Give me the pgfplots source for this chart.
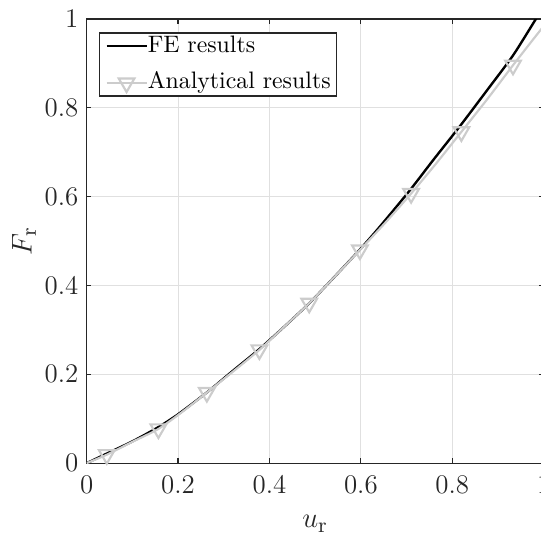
\documentclass[border=0pt]{standalone}
\usepackage{pgfplots}
\pgfplotsset{compat=1.18}
\definecolor{axgray}{gray}{0.15}
\definecolor{gridgray}{gray}{0.88}
\definecolor{anagray}{gray}{0.8}
\begin{document}
\begin{tikzpicture}
\begin{axis}[
  at={(0,0)}, anchor=south west,
  scale only axis,
  width=191.9pt, height=186.5pt,
  xmin=0, xmax=1, ymin=0, ymax=1,
  xtick={0,0.2,0.4,0.6,0.8,1},
  ytick={0,0.2,0.4,0.6,0.8,1},
  xticklabels={0,0.2,0.4,0.6,0.8,1},
  yticklabels={0,0.2,0.4,0.6,0.8,1},
  tick align=inside,
  major tick length=2pt,
  grid=major,
  major grid style={gridgray, line width=0.4pt},
  axis line style={axgray, line width=0.5pt},
  every tick/.style={axgray, line width=0.5pt},
  tick label style={font=\fontsize{11.3}{13}\selectfont, text=axgray},
  xticklabel style={yshift=-1.5pt},
  label style={font=\fontsize{12.4}{14}\selectfont, text=axgray},
  xlabel={$u_{\mathrm{r}}$},
  ylabel={$F_{\mathrm{r}}$},
  xlabel style={at={(axis description cs:0.5,-0.137)}, anchor=center},
  ylabel style={at={(axis description cs:-0.137,0.5)}, anchor=center},
  legend cell align=left,
  legend style={
    at={(rel axis cs:0,1)}, xshift=5.2pt, yshift=-5.6pt, anchor=north west,
    draw=axgray, line width=0.5pt, fill=white,
    font=\fontsize{10}{12}\selectfont,
    inner xsep=2.4pt, inner ysep=1pt,
    row sep=6.5pt,
    nodes={inner sep=0pt, text height=7pt, text depth=2pt},
  },
  legend image code/.code={%
    \draw[#1] plot coordinates {(0pt,0pt) (8.4pt,0pt) (16.8pt,0pt)};},
]
\addplot[black, line width=1pt, smooth, tension=0.4] coordinates {
(0,0) (0.045,0.022) (0.10,0.049) (0.155,0.080) (0.20,0.110) (0.264,0.160)
(0.32,0.208) (0.377,0.256) (0.43,0.305) (0.487,0.360) (0.54,0.417)
(0.598,0.481) (0.642,0.533) (0.707,0.614) (0.758,0.682) (0.817,0.759)
(0.875,0.838) (0.933,0.918) (0.983,1.0) (1.0,1.027)
};
\addlegendentry{FE results}
\addplot[anagray, line width=0.9pt, smooth, tension=0.4, mark=triangle,
  mark size=3.8pt,
  mark options={rotate=180, solid, fill=none, line width=0.9pt},
  mark indices={2,4,6,8,10,12,14,16,18}] coordinates {
(0,0) (0.044,0.019) (0.10,0.048) (0.157,0.077) (0.21,0.116) (0.263,0.159)
(0.32,0.206) (0.378,0.255) (0.43,0.305) (0.487,0.360) (0.54,0.417)
(0.598,0.480) (0.655,0.543) (0.710,0.607) (0.765,0.675) (0.820,0.746)
(0.877,0.820) (0.933,0.896) (0.98,0.958) (1.0,0.984)
};
\addlegendentry{Analytical results}
\end{axis}
\pgfresetboundingbox
\path[use as bounding box] (-36.4pt,-29.8pt) rectangle (190.8pt,194.5pt);
\end{tikzpicture}
\end{document}
